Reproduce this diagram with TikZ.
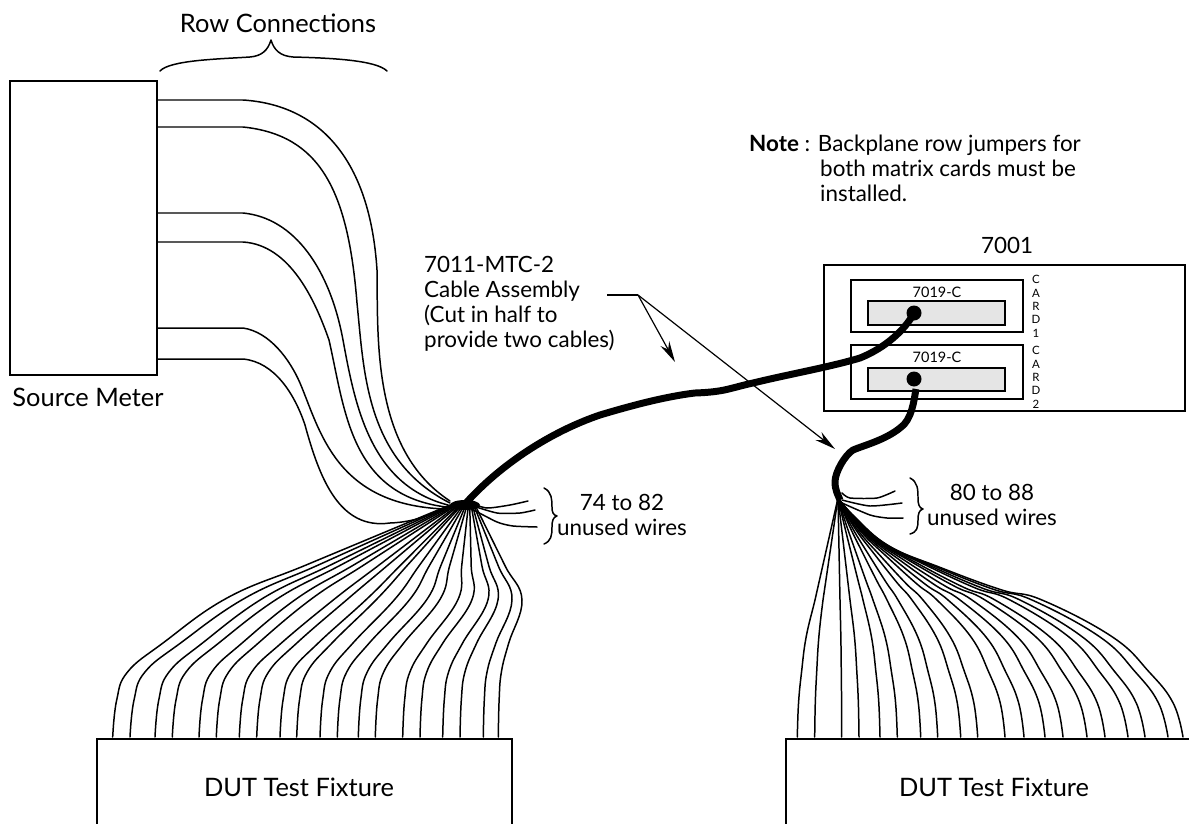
\documentclass[tikz,border=0pt]{standalone}
\usepackage{fontspec}
\setmainfont{Lato}
\usetikzlibrary{arrows.meta}
\tikzset{
  wire/.style={line width=1.5pt,line cap=round,line join=round},
  cable/.style={line width=7pt,line join=round},
  box/.style={draw,line width=1.6pt,inner sep=0pt,minimum width=#1},
  lbl/.style={font=\fontsize{22.5}{26}\selectfont,inner sep=0pt},
  big/.style={font=\fontsize{25.5}{30}\selectfont,inner sep=0pt},
  lblw/.style={lbl,anchor=base west},
  sm/.style={font=\fontsize{14.5}{18}\selectfont,inner sep=0pt},
  tiny/.style={font=\fontsize{11.5}{14}\selectfont,inner sep=0pt},
  lead/.style={line width=1.2pt,-{Stealth[length=21bp,width=10bp]}},
}
\begin{document}
\begin{tikzpicture}[x=1bp,y=-1bp]
\clip (0,0) rectangle (1189,824);
\fill[white] (0,0) rectangle (1189,824);

% boxes
\node[box=147bp,minimum height=294bp] (src) at (83.5,228) {};
\node[box=415bp,minimum height=110bp] (fixL) at (304.5,794) {};
\node[box=430bp,minimum height=110bp] (fixR) at (1001,794) {};
\node[box=361bp,minimum height=146bp] (rack) at (1004.5,338) {};
\node[box=172bp,minimum height=52bp] (card1) at (937,306) {};
\node[box=172bp,minimum height=54bp] (card2) at (937,372) {};
\node[box=137bp,minimum height=24bp,fill=black!10] (slot1) at (936.5,313) {};
\node[box=137bp,minimum height=23bp,fill=black!10] (slot2) at (936.5,379.5) {};

% labels
\node[big] (t1) at (278,23) {Row Connections};
\node[big] (t2) at (88,397) {Source Meter};
\node[big] (t3) at (299,787) {DUT Test Fixture};
\node[big] (t4) at (994,787) {DUT Test Fixture};
\node[lbl] (t5) at (1007,245) {7001};
\node[sm] (t6) at (937,292) {7019-C};
\node[sm] (t7) at (937,357) {7019-C};
\node[lblw] (a1) at (424,272) {7011-MTC-2};
\node[lblw] (a2) at (424,297) {Cable Assembly};
\node[lblw] (a3) at (424,322) {(Cut in half to};
\node[lblw] (a4) at (424,347) {provide two cables)};
\node[lblw] (n1) at (749,151) {\textbf{Note} : Backplane row jumpers for};
\node[lblw] (n2) at (820,176) {both matrix cards must be};
\node[lblw] (n3) at (820,201) {installed.};
\node[lbl] (u1) at (622,502.5) {74 to 82};
\node[lbl] (u2) at (622,527.5) {unused wires};
\node[lbl] (u3) at (992,492.5) {80 to 88};
\node[lbl] (u4) at (992,517.5) {unused wires};
\foreach \ch/\y [count=\k] in {C/279,A/293,R/306,D/319,1/333,C/350,A/364,R/377,D/390,2/404}
  \node[tiny] (cd\k) at (1036,\y) {\ch};

% braces
\draw[wire] (160,71) .. controls (170,60) and (220,59) .. (250,57) .. controls (262,56) and (268,50) .. (271,40) .. controls (274,50) and (280,56) .. (293,57) .. controls (330,58) and (376,60) .. (387,71);
\draw[wire] (544,488) .. controls (552,492) and (552,500) .. (552,507) .. controls (552,512) and (553,515) .. (557,516) .. controls (553,517) and (552,521) .. (552,527) .. controls (552,536) and (551,541) .. (544,544);
\draw[wire] (910,478) .. controls (918,482) and (918,490) .. (918,498) .. controls (918,504) and (919,508) .. (923,509) .. controls (919,510) and (918,514) .. (918,520) .. controls (918,528) and (917,532) .. (910,534);

% row wires
\coordinate (r1) at (157,100);
\coordinate (r2) at (157,127);
\coordinate (r3) at (157,213);
\coordinate (r4) at (157,242);
\coordinate (r5) at (157,328);
\coordinate (r6) at (157,359);
\draw[wire] (r1) -- (243,100) .. controls (320,105) and (370,160) .. (377,270) .. controls (378,340) and (372,450) .. (450,501);
\draw[wire] (r2) -- (243,127) .. controls (320,135) and (348,190) .. (357,303) .. controls (364,370) and (365,460) .. (450,503);
\draw[wire] (r3) -- (243,213) .. controls (295,218) and (330,270) .. (343,340) .. controls (355,405) and (370,485) .. (448,505);
\draw[wire] (r4) -- (243,242) .. controls (290,245) and (315,300) .. (329,340) .. controls (345,410) and (350,495) .. (446,507);
\draw[wire] (r5) -- (243,328) .. controls (270,332) and (290,360) .. (300,383) .. controls (320,430) and (335,505) .. (445,509);
\draw[wire] (r6) -- (243,359) .. controls (275,362) and (295,395) .. (305,425) .. controls (320,480) and (340,530) .. (390,523) .. controls (415,522) and (430,515) .. (450,506);

% left fan
\coordinate (hubL) at (465,505);
\foreach \xb/\xt [count=\i from 0] in {112.7/227,130/245,155/263,172.3/278,199/297,216.3/312,239.3/335,256.7/348,280/367,296.7/377,320/395,337.3/410,358.3/427,375.3/440,402.7/458,420/472,442.7/488,460/498,483.3/512,498.3/522}{
  \pgfmathsetmacro\d{\xt-\xb}
  \pgfmathsetmacro\pa{\xb+.035*\d}
  \pgfmathsetmacro\pb{\xb+.13*\d}
  \pgfmathsetmacro\pc{\xb+.44*\d}
  \pgfmathsetmacro\xh{450+25*\i/19}
  \pgfmathsetmacro\ym{600-(1-\i/19)*2}
  \pgfmathsetmacro\xq{\xt+.35*(\xh-\xt)}
  \pgfmathsetmacro\yq{\ym-.35*(\ym-505)}
  \pgfmathsetmacro\xr{\xt+.75*(\xh-\xt)}
  \pgfmathsetmacro\yr{\ym-.75*(\ym-505)}
  \draw[wire] plot[smooth,tension=.7] coordinates {(\xb,737) (\pa,700) (\pb,672) (\pc,643) (\xt,\ym) (\xq,\yq) (\xr,\yr) (\xh,505)};
}
\fill (hubL) ellipse (15 and 5);

% right fan
\coordinate (hubR) at (838,498);
\foreach \xb/\xt [count=\i from 0] in {797.3/815,814.7/823,841.7/840,859/850,880/863,897.3/873,920.7/887,937.7/898,960.7/912,977.7/923,1005/937,1024/948,1045/960,1063/972,1087/985,1105/995,1128/1010,1145/1020,1168/1032,1183/1042}{
  \pgfmathsetmacro\d{\xb-\xt}
  \pgfmathsetmacro\pa{\xt+.5*\d}
  \pgfmathsetmacro\pb{\xt+.76*\d}
  \pgfmathsetmacro\pc{\xt+.93*\d}
  \pgfmathsetmacro\s{max(0,(\xt-850)/192)}
  \pgfmathsetmacro\w{\xt-838}
  \pgfmathsetmacro\qa{838+.084*\w}
  \pgfmathsetmacro\qb{838+.25*\w}
  \pgfmathsetmacro\qc{838+.5*\w}
  \pgfmathsetmacro\qd{838+.8*\w}
  \pgfmathsetmacro\ya{498+102*((1-\s)*.084+\s*.19)}
  \pgfmathsetmacro\yb{498+102*((1-\s)*.25+\s*.47)}
  \pgfmathsetmacro\yc{498+102*((1-\s)*.5+\s*.68)}
  \pgfmathsetmacro\yd{498+102*((1-\s)*.8+\s*.9)}
  \draw[wire] plot[smooth,tension=.7] coordinates {(\xb,737) (\pc,703) (\pb,672) (\pa,637) (\xt,600) (\qd,\yd) (\qc,\yc) (\qb,\yb) (\qa,\ya) (hubR)};
}

% unused wires
\draw[wire] plot[smooth,tension=.4] coordinates {(470,503) (487,508) (510,505) (528,501)};
\draw[wire] plot[smooth,tension=.4] coordinates {(470,505) (497,513) (520,513) (535,510)};
\draw[wire] plot[smooth,tension=.4] coordinates {(470,508) (497,522) (513,526) (537,527)};
\draw[wire] plot[smooth,tension=.4] coordinates {(842,493) (850,498) (877,498) (895,491)};
\draw[wire] plot[smooth,tension=.4] coordinates {(842,500) (870,506) (902,503)};
\draw[wire] plot[smooth,tension=.4] coordinates {(842,503) (870,515) (887,518) (903,518)};

% leaders
\coordinate (ld) at (638,295);
\coordinate (tipA) at (675,362);
\coordinate (tipB) at (835,449);
\draw[line width=1.2pt] (607,295) -- (ld);
\draw[lead] (ld) -- (tipA);
\draw[lead] (ld) -- (tipB);

% cables
\fill (914,313) circle (7.5);
\fill (914,379) circle (7.5);
\coordinate (end1) at (914,313);
\coordinate (end2) at (916,389);
\coordinate (cutL) at (466,503);
\coordinate (cutR) at (840,500);
\draw[cable] (cutL) .. controls (500,465) and (550,432) .. (600,415) .. controls (640,403) and (670,396) .. (695,393) .. controls (725,392) and (730,388) .. (753,383) .. controls (790,374) and (830,367) .. (860,358) .. controls (885,348) and (905,330) .. (end1);
\draw[cable] (end2) .. controls (914,400) and (912,420) .. (900,428) .. controls (885,440) and (865,445) .. (853,450) .. controls (845,455) and (835,472) .. (835,482) .. controls (835,490) and (838,495) .. (cutR);
\end{tikzpicture}
\end{document}
